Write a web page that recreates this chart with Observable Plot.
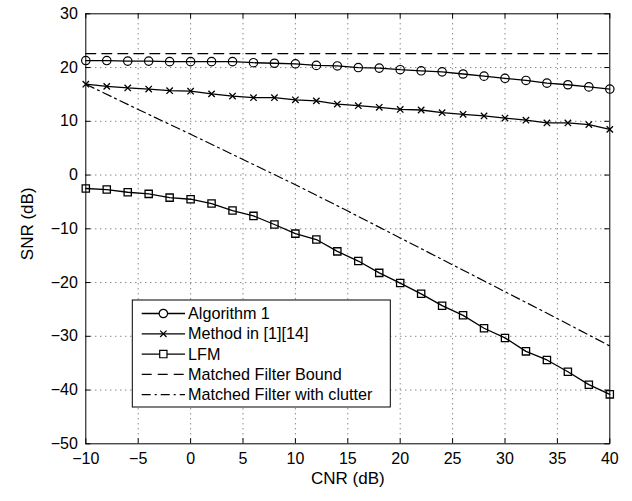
<!DOCTYPE html>
<html>
<head>
<meta charset="utf-8">
<script src="https://cdn.jsdelivr.net/npm/d3@7"></script>
<script src="https://cdn.jsdelivr.net/npm/@observablehq/plot@0.6"></script>
<style>
  html, body { margin: 0; padding: 0; background: #fff; }
  #chart { width: 632px; height: 501px; }
</style>
</head>
<body>
<div id="chart"></div>
<script>
// ---- data ----
const cnr = [-10, -8, -6, -4, -2, 0, 2, 4, 6, 8, 10, 12, 14, 16, 18, 20, 22, 24, 26, 28, 30, 32, 34, 36, 38, 40];
const algorithm1 = [21.3, 21.3, 21.2, 21.2, 21.1, 21.1, 21.1, 21.1, 20.9, 20.8, 20.7, 20.4, 20.3, 20.0, 19.9, 19.6, 19.4, 19.2, 18.8, 18.4, 18.0, 17.6, 17.1, 16.8, 16.4, 16.0];
const method = [16.9, 16.5, 16.2, 16.0, 15.7, 15.6, 15.1, 14.7, 14.4, 14.4, 14.0, 13.8, 13.2, 12.9, 12.6, 12.2, 12.1, 11.6, 11.3, 11.0, 10.6, 10.2, 9.7, 9.7, 9.4, 8.5];
const lfm = [-2.5, -2.7, -3.2, -3.5, -4.2, -4.5, -5.3, -6.6, -7.6, -9.2, -10.9, -12.0, -14.2, -16.0, -18.2, -20.1, -22.1, -24.3, -26.1, -28.5, -30.3, -32.8, -34.4, -36.6, -39.0, -40.8];
const boundX = [-10, 40];
const boundY = [22.6, 22.6];
const clutterX = [-10, -5, 0, 5, 10, 15, 20, 25, 30, 35, 40];
const clutterY = [16.9, 12.2, 7.6, 2.9, -1.8, -6.7, -11.7, -16.7, -21.7, -26.7, -31.8];

const xTicks = [-10, -5, 0, 5, 10, 15, 20, 25, 30, 35, 40];
const yTicks = [-50, -40, -30, -20, -10, 0, 10, 20, 30];
const legendLabels = ["Algorithm 1", "Method in [1][14]", "LFM", "Matched Filter Bound", "Matched Filter with clutter"];
const xLabel = "CNR (dB)";
const yLabel = "SNR (dB)";

// ---- build tables ----
const series = (ys) => cnr.map((x, i) => ({x, y: ys[i]}));
const dAlg = series(algorithm1);
const dMet = series(method);
const dLfm = series(lfm);
const dBound = boundX.map((x, i) => ({x, y: boundY[i]}));
const dClutter = clutterX.map((x, i) => ({x, y: clutterY[i]}));

const fmt = d => d < 0 ? "\u2212" + (-d) : String(d);
const FONT = "'Liberation Sans', Arial, Helvetica, sans-serif";

const W = 632, H = 501;
const mL = 85.3, mR = 22.7, mT = 13.3, mB = 57.7;
const tickLen = 5;
const xPerPx = 50 / (W - mL - mR);
const yPerPx = 80 / (H - mT - mB);

const gridStyle = {stroke: "#555", strokeOpacity: 1, strokeWidth: 1, strokeDasharray: "1,4"};

const chart = Plot.plot({
  width: W,
  height: H,
  marginLeft: mL,
  marginRight: mR,
  marginTop: mT,
  marginBottom: mB,
  style: {fontFamily: FONT, fontSize: "16px", color: "#000", background: "#fff", overflow: "visible"},
  x: {domain: [-10, 40]},
  y: {domain: [-50, 30]},
  marks: [
    Plot.gridX(xTicks.slice(1, -1), gridStyle),
    Plot.gridY(yTicks.slice(1, -1), gridStyle),
    // series
    Plot.line(dBound, {x: "x", y: "y", stroke: "#000", strokeWidth: 1.2, strokeDasharray: "10,6"}),
    Plot.line(dClutter, {x: "x", y: "y", stroke: "#000", strokeWidth: 1.2, strokeDasharray: "9,4,2,4"}),
    Plot.line(dAlg, {x: "x", y: "y", stroke: "#000", strokeWidth: 1.3}),
    Plot.dot(dAlg, {x: "x", y: "y", symbol: "circle", r: 4.2, stroke: "#000", fill: "none", strokeWidth: 1.2}),
    Plot.line(dMet, {x: "x", y: "y", stroke: "#000", strokeWidth: 1.3}),
    Plot.dot(dMet, {x: "x", y: "y", symbol: "times", r: 3, stroke: "#000", fill: "none", strokeWidth: 1.3}),
    Plot.line(dLfm, {x: "x", y: "y", stroke: "#000", strokeWidth: 1.3}),
    Plot.dot(dLfm, {x: "x", y: "y", symbol: "square", r: 4.1, stroke: "#000", fill: "none", strokeWidth: 1.3}),
    // inward ticks on all four sides
    Plot.ruleX(xTicks, {y1: -50, y2: -50 + tickLen * yPerPx, stroke: "#000"}),
    Plot.ruleX(xTicks, {y1: 30, y2: 30 - tickLen * yPerPx, stroke: "#000"}),
    Plot.ruleY(yTicks, {x1: -10, x2: -10 + tickLen * xPerPx, stroke: "#000"}),
    Plot.ruleY(yTicks, {x1: 40, x2: 40 - tickLen * xPerPx, stroke: "#000"}),
    Plot.frame({stroke: "#000", strokeWidth: 1}),
    Plot.axisX(xTicks, {tickSize: 0, tickPadding: 9, tickFormat: fmt, label: null, fontSize: 16}),
    Plot.axisY(yTicks, {tickSize: 0, tickPadding: 8, tickFormat: fmt, label: null, fontSize: 16}),
    Plot.text([xLabel], {frameAnchor: "bottom", dy: 35, lineAnchor: "middle", textAnchor: "middle", fontSize: 17, fill: "#000"}),
    Plot.text([yLabel], {frameAnchor: "left", dx: -58, dy: -5, rotate: -90, lineAnchor: "middle", textAnchor: "middle", fontSize: 17, fill: "#000"})
  ]
});

document.getElementById("chart").appendChild(chart);

// ---- legend (inside the plot area) ----
const svg = d3.select(chart);
const lg = svg.append("g").attr("font-family", FONT).attr("font-size", "16.2px").attr("text-anchor", "start");
const box = {x: 132.3, y: 300, w: 258, h: 107};
lg.append("rect").attr("x", box.x).attr("y", box.y).attr("width", box.w).attr("height", box.h)
  .attr("fill", "#fff").attr("stroke", "#000").attr("stroke-width", 1);
const rowY = i => 313.5 + i * 20.3;
const lx1 = 141.7, lx2 = 185, lxm = (lx1 + lx2) / 2, tx = 188;
const styles = [
  {dash: null, sym: d3.symbolCircle, r: 4.2},
  {dash: null, sym: d3.symbolTimes, r: 3},
  {dash: null, sym: d3.symbolSquare, r: 4.1},
  {dash: "10,6", sym: null},
  {dash: "9,4,2,4", sym: null}
];
legendLabels.forEach((label, i) => {
  const s = styles[i];
  const y = rowY(i);
  const ln = lg.append("line").attr("x1", lx1).attr("x2", lx2).attr("y1", y).attr("y2", y)
    .attr("stroke", "#000").attr("stroke-width", 1.3);
  if (s.dash) ln.attr("stroke-dasharray", s.dash);
  if (s.sym) {
    lg.append("path").attr("d", d3.symbol(s.sym, s.r * s.r * Math.PI)())
      .attr("transform", `translate(${lxm},${y})`)
      .attr("fill", s.sym === d3.symbolTimes ? "none" : "#fff").attr("stroke", "#000").attr("stroke-width", 1.2);
  }
  lg.append("text").attr("x", tx).attr("y", y).attr("dy", "0.35em").attr("text-anchor", "start")
    .attr("fill", "#000").text(label);
});
</script>
</body>
</html>
